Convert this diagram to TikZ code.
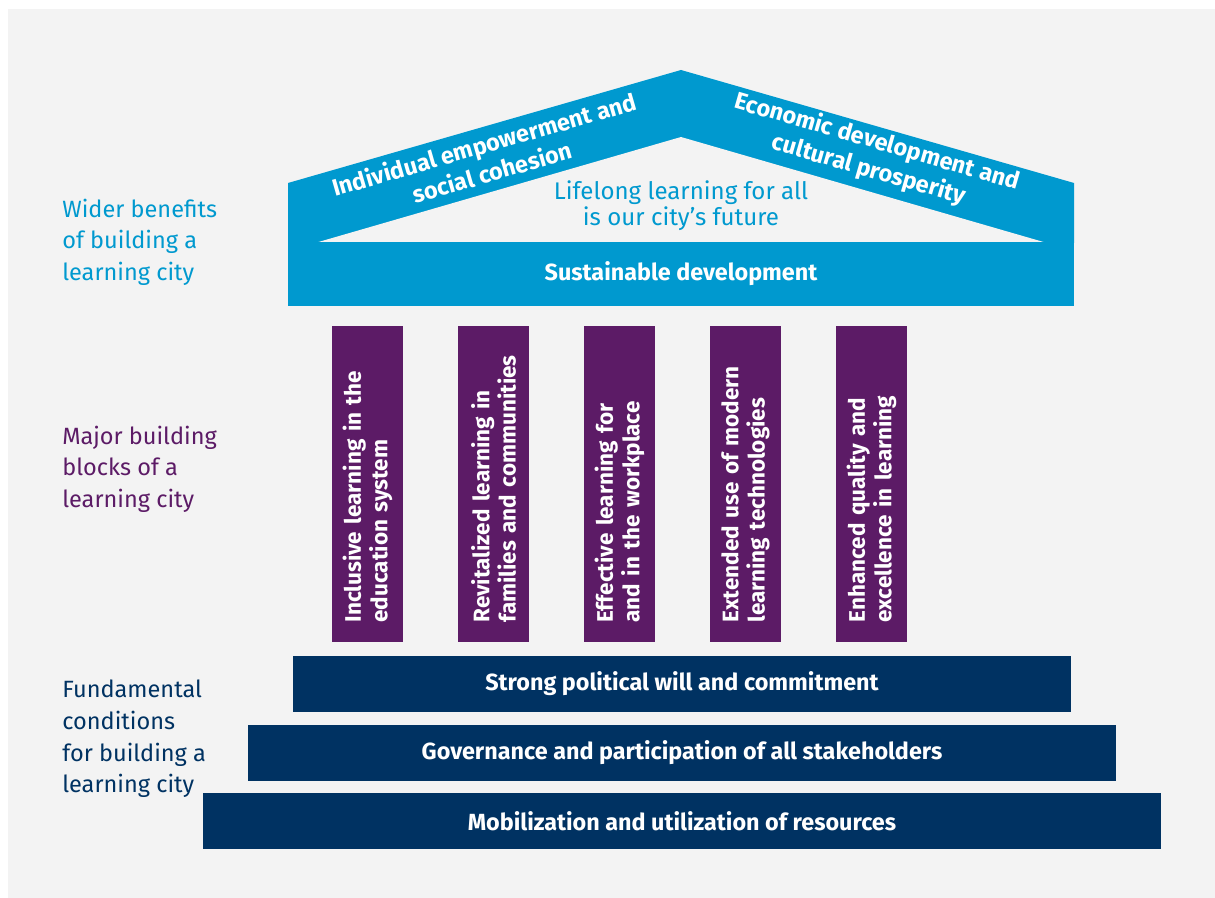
\documentclass[tikz,border=0pt]{standalone}
\usepackage{fontspec}
\setmainfont{Fira Sans}
\usetikzlibrary{positioning}

\definecolor{bggray}{RGB}{243,243,243}
\definecolor{roofblue}{RGB}{0,153,207}
\definecolor{pillarpurple}{RGB}{92,27,102}
\definecolor{basenavy}{RGB}{0,50,98}

\tikzset{
	txt/.style={font=\fontsize{13.4}{18}\selectfont},
	boldtxt/.style={font=\fontsize{13.3}{16}\selectfont\bfseries},
	beam/.style={boldtxt, fill=roofblue, text=white, inner sep=0pt, minimum height=1.28cm},
	pillar/.style={font=\fontsize{12.8}{15}\selectfont\bfseries, fill=pillarpurple, text=white, rotate=90,
		inner ysep=0pt, inner xsep=0.4cm, minimum width=6.34cm, minimum height=1.42cm, text width=5.54cm, align=left},
	stair/.style={boldtxt, fill=basenavy, text=white, inner sep=0pt, minimum height=1.12cm},
	rooftxt/.style={font=\fontsize{13.4}{16.5}\selectfont\bfseries, text=white, align=center, inner sep=0pt},
	sidelabel/.style={txt, anchor=west, align=left, inner sep=0pt},
}

\begin{document}
\begin{tikzpicture}[x=0.02cm, y=-0.02cm]
	\useasboundingbox (0,0) rectangle (1215,898);
	\fill[bggray] (8,9) rectangle (1215,898);

	% roof
	\fill[roofblue] (288,243) -- (288,183) -- (681,70) -- (1074,183) -- (1074,243) -- cycle;
	\fill[bggray] (315,243) -- (681,137) -- (1047,243) -- cycle;
	\node[rooftxt, rotate=16.1] (social) at (488,158) {Individual empowerment and\\social cohesion};
	\node[rooftxt, rotate=-16.1] (economic) at (873,156) {Economic development and\\cultural prosperity};
	\node[font=\fontsize{13.7}{14.6}\selectfont, text=roofblue, align=center, inner sep=0pt] (motto) at (681,206)
		{Lifelong learning for all\\is our city’s future};
	\node[beam, minimum width=15.72cm] (sustain) at (681,274) {\raisebox{-2pt}{Sustainable development}};

	% pillars
	\foreach \i/\lbl in {0/{Inclusive learning in the\\education system},
		1/{Revitalized learning in\\families and communities},
		2/{Effective learning for\\and in the workplace},
		3/{Extended use of modern\\learning technologies},
		4/{Enhanced quality and\\excellence in learning}}
		\node[pillar] (pillar\i) at ({367.5+126*\i},484) {\lbl};

	% base
	\node[stair, minimum width=15.56cm] (will) at (682,684) {Strong political will and commitment};
	\node[stair, minimum width=17.38cm, below=0.24cm of will] (gov) {Governance and participation of all stakeholders};
	\node[stair, minimum width=19.18cm, below=0.24cm of gov] (mob) {Mobilization and utilization of resources};

	% side labels
	\node[sidelabel, text=roofblue] (wider) at (62,242) {Wider benefits\\of building a\\learning city};
	\node[sidelabel, text=pillarpurple] (major) at (62,469) {Major building\\blocks of a\\learning city};
	\node[sidelabel, text=basenavy] (fund) at (62,739) {Fundamental\\conditions\\for building a\\learning city};
\end{tikzpicture}
\end{document}
